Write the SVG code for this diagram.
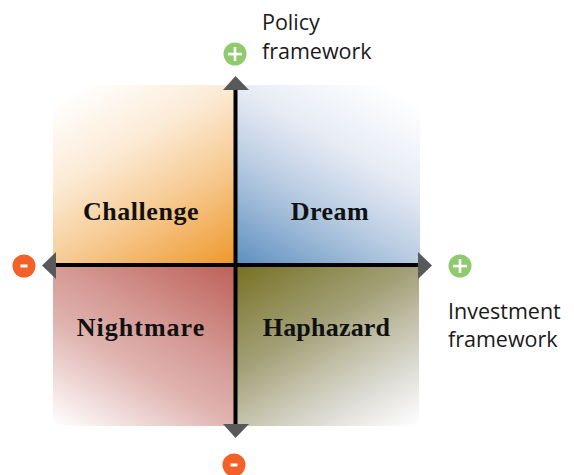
<svg xmlns="http://www.w3.org/2000/svg" width="574" height="475" viewBox="0 0 574 475">
<style>
.q{font-family:"Liberation Serif",serif;font-weight:700;font-size:26px;fill:#111;text-anchor:middle}
.l{font-family:"Open Sans","Noto Sans",sans-serif;font-size:21.5px;fill:#1a1a1a}
.ax{stroke:#000;stroke-width:4;fill:none}
.ah{fill:#58595b}
.p{fill:#8fcb6e}.m{fill:#f26127}.s{fill:#fff}
</style>
<defs>
<linearGradient id="gc" gradientUnits="userSpaceOnUse" x1="235" y1="265" x2="120" y2="66"><stop offset="0" stop-color="#ee982b"/><stop offset=".4" stop-color="#ee982b" stop-opacity=".5"/><stop offset=".68" stop-color="#ee982b" stop-opacity=".2"/><stop offset=".96" stop-color="#ee982b" stop-opacity=".03"/><stop offset="1" stop-color="#ee982b" stop-opacity="0"/></linearGradient>
<linearGradient id="gd" gradientUnits="userSpaceOnUse" x1="237" y1="265" x2="352" y2="66"><stop offset="0" stop-color="#5c8fbf"/><stop offset=".4" stop-color="#6a93c2" stop-opacity=".48"/><stop offset=".68" stop-color="#7a97c6" stop-opacity=".18"/><stop offset="1" stop-color="#7a97c6" stop-opacity="0"/></linearGradient>
<linearGradient id="gn" gradientUnits="userSpaceOnUse" x1="235" y1="265" x2="120" y2="464"><stop offset="0" stop-color="#bd6058"/><stop offset=".4" stop-color="#bd6058" stop-opacity=".63"/><stop offset=".6" stop-color="#bd6058" stop-opacity=".48"/><stop offset="1" stop-color="#bd6058" stop-opacity="0"/></linearGradient>
<linearGradient id="gh" gradientUnits="userSpaceOnUse" x1="237" y1="265" x2="352" y2="464"><stop offset="0" stop-color="#767020"/><stop offset=".4" stop-color="#84804a" stop-opacity=".75"/><stop offset=".6" stop-color="#84804f" stop-opacity=".48"/><stop offset=".85" stop-color="#84806a" stop-opacity=".18"/><stop offset="1" stop-color="#84806a" stop-opacity="0"/></linearGradient>
</defs>
<g id="challenge"><rect x="53" y="85" width="182" height="180" fill="url(#gc)"/><text class="q" x="141" y="220" letter-spacing=".55">Challenge</text></g>
<g id="dream"><rect x="236" y="85" width="184" height="180" fill="url(#gd)"/><text class="q" x="330" y="220" letter-spacing=".5">Dream</text></g>
<g id="nightmare"><rect x="53" y="265" width="182" height="161" fill="url(#gn)"/><text class="q" x="141" y="336" letter-spacing="1">Nightmare</text></g>
<g id="haphazard"><rect x="236" y="265" width="183" height="161" fill="url(#gh)"/><text class="q" x="326.500" y="336" letter-spacing=".2">Haphazard</text></g>
<g id="connectors">
<line class="ax" x1="235.500" y1="88" x2="235.500" y2="426"/>
<line class="ax" x1="54" y1="265" x2="419" y2="265"/>
<polygon class="ah" points="235.500,76 249,90 223,90"/>
<polygon class="ah" points="235.500,438 249,424 223,424"/>
<polygon class="ah" points="42,265.500 56,252 56,279"/>
<polygon class="ah" points="432,265.500 418,252 418,279"/>
</g>
<g id="policy-plus"><circle class="p" cx="235" cy="54" r="11.500"/><rect class="s" x="228" y="52.800" width="14" height="2.600"/><rect class="s" x="233.700" y="47" width="2.600" height="14"/></g>
<g id="investment-plus"><circle class="p" cx="460" cy="266" r="11.500"/><rect class="s" x="453" y="264.800" width="14" height="2.600"/><rect class="s" x="458.700" y="259" width="2.600" height="14"/></g>
<g id="investment-minus"><circle class="m" cx="24" cy="266" r="11.500"/><rect class="s" x="20.500" y="264.500" width="7" height="3"/></g>
<g id="policy-minus"><circle class="m" cx="234" cy="465" r="11.500"/><rect class="s" x="230.500" y="463.500" width="7" height="3"/></g>
<g id="policy-label"><text class="l" x="262" y="30">Policy</text><text class="l" x="262" y="59">framework</text></g>
<g id="investment-label"><text class="l" x="448" y="319">Investment</text><text class="l" x="448" y="347">framework</text></g>
</svg>
